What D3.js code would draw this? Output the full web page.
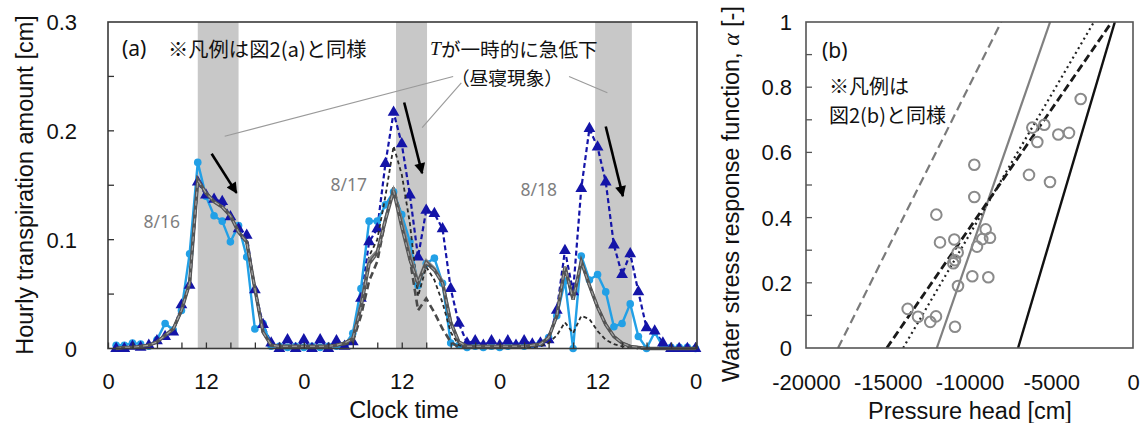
<!DOCTYPE html>
<html><head><meta charset="utf-8">
<script src="https://cdn.jsdelivr.net/npm/d3@7"></script>
<style>
body{margin:0;background:#fff;}
svg{display:block;}
</style></head><body>
<svg id="c" width="1142" height="423"></svg>
<script>
// ---------- Panel (a) data ----------
const hours = d3.range(1, 73);
const xTickHours = d3.range(0, 73, 3);
const xLabelHours = [0, 12, 24, 36, 48, 60, 72];
const yTicksA = [0, 0.1, 0.2, 0.3];
const yMinorA = [0.05, 0.1, 0.15, 0.2, 0.25];
const shadeBands = [[11, 16], [35.3, 39.1], [59.7, 64.2]];

// light blue, circles (observed)
const obsT = [
0.003,0.003,0.005,0.004,0.002,0.008,0.023,0.017,0.035,0.087,0.171,0.140,0.122,0.117,0.098,0.113,0.084,0.018,0.023,0.002,0.002,0.001,0.002,0.001,
0.002,0.001,0.002,0.002,0.003,0.014,0.055,0.117,0.117,0.132,0.144,0.123,0.098,0.058,0.078,0.083,0.060,0.005,0.003,0.001,0.002,0.001,0.002,0.001,
0.002,0.003,0.002,0.003,0.005,0.010,0.030,0.062,0.000,0.085,0.063,0.068,0.052,0.020,0.023,0.041,0.011,0.000,0.015,0.002,0.001,0.001,0.001,0.000];
// dark blue, triangles, dashed
const potT = [
0.000,0.000,0.002,0.001,0.003,0.007,0.011,0.015,0.040,0.058,0.153,0.141,0.137,0.135,0.121,0.110,0.104,0.054,0.022,0.005,0.000,0.008,0.000,0.008,
0.000,0.008,0.000,0.007,0.002,0.006,0.046,0.098,0.110,0.170,0.217,0.188,0.141,0.084,0.127,0.124,0.110,0.055,0.023,0.005,0.007,0.003,0.007,0.003,
0.007,0.003,0.007,0.004,0.005,0.008,0.035,0.090,0.052,0.147,0.202,0.185,0.153,0.095,0.068,0.087,0.052,0.019,0.016,0.005,0.000,0.000,0.000,0.000];
// thick dark gray
const modelA = [
0.000,0.001,0.001,0.002,0.003,0.006,0.012,0.018,0.035,0.060,0.155,0.143,0.135,0.130,0.122,0.107,0.098,0.055,0.015,0.003,0.002,0.002,0.002,0.002,
0.002,0.002,0.002,0.003,0.005,0.009,0.038,0.078,0.088,0.118,0.145,0.112,0.082,0.060,0.079,0.072,0.060,0.024,0.006,0.002,0.002,0.002,0.002,0.002,
0.002,0.002,0.002,0.003,0.004,0.010,0.030,0.075,0.045,0.080,0.058,0.038,0.022,0.011,0.005,0.002,0.001,0.000,0.000,0.000,0.000,0.000,0.000,0.000];
// medium gray solid
const modelB = [
0.000,0.001,0.001,0.002,0.003,0.006,0.012,0.018,0.035,0.060,0.155,0.143,0.135,0.130,0.122,0.107,0.098,0.055,0.015,0.003,0.002,0.002,0.002,0.002,
0.002,0.002,0.002,0.003,0.005,0.010,0.042,0.082,0.090,0.120,0.146,0.118,0.088,0.062,0.081,0.074,0.062,0.025,0.006,0.002,0.002,0.002,0.002,0.002,
0.002,0.002,0.002,0.003,0.004,0.010,0.030,0.075,0.045,0.080,0.058,0.038,0.022,0.011,0.005,0.002,0.001,0.000,0.000,0.000,0.000,0.000,0.000,0.000];
// gray long dashes
const modelC = [
0.000,0.001,0.001,0.002,0.003,0.006,0.012,0.018,0.035,0.060,0.155,0.143,0.135,0.130,0.122,0.107,0.098,0.055,0.015,0.003,0.002,0.002,0.002,0.002,
0.002,0.002,0.002,0.003,0.004,0.006,0.030,0.062,0.080,0.118,0.148,0.118,0.082,0.035,0.046,0.033,0.018,0.006,0.001,0.001,0.001,0.001,0.001,0.001,
0.002,0.002,0.002,0.003,0.004,0.010,0.030,0.075,0.045,0.080,0.058,0.038,0.022,0.011,0.005,0.002,0.001,0.000,0.000,0.000,0.000,0.000,0.000,0.000];
// black short dashes
const modelD = [
0.000,0.001,0.001,0.002,0.003,0.006,0.012,0.018,0.035,0.060,0.155,0.143,0.135,0.130,0.122,0.107,0.098,0.055,0.015,0.003,0.002,0.002,0.002,0.002,
0.002,0.002,0.002,0.003,0.004,0.006,0.040,0.085,0.100,0.140,0.186,0.160,0.115,0.048,0.075,0.063,0.042,0.015,0.003,0.001,0.001,0.001,0.001,0.001,
0.001,0.001,0.001,0.001,0.002,0.005,0.012,0.024,0.014,0.030,0.027,0.016,0.008,0.004,0.002,0.001,0.000,0.000,0.000,0.000,0.000,0.000,0.000,0.000];

const dateLabels = [
  {t: "8/16", h: 6.6, v: 0.117},
  {t: "8/17", h: 29.5, v: 0.151},
  {t: "8/18", h: 52.8, v: 0.147}];
const calloutLines = [
  [[14.3, 0.195], [42.3, 0.250]],
  [[43.3, 0.244], [38.5, 0.203]],
  [[56.5, 0.250], [61.2, 0.235]]];
const arrows = [
  [[12.7, 0.179], [15.75, 0.143]],
  [[36.3, 0.226], [38.5, 0.161]],
  [[61.0, 0.204], [63.1, 0.140]]];

// ---------- Panel (b) data ----------
const obsHead = [-3199,-6159,-5425,-5853,-4569,-3914,-6361,-5076,-9706,-9706,-12029,-11804,-10929,-9011,-9217,-8746,-9541,-10724,-10887,-10990,-9829,-8849,-10703,-13780,-13150,-12049,-12398,-10887];
const obsAlpha = [0.764,0.676,0.685,0.632,0.655,0.660,0.531,0.509,0.562,0.463,0.409,0.324,0.333,0.364,0.334,0.338,0.311,0.293,0.269,0.260,0.220,0.217,0.190,0.120,0.096,0.097,0.080,0.065];
const lineGrayDash = [[-18040, 0], [-8060, 1]];
const lineGraySolid = [[-12000, 0], [-5070, 1]];
const lineBlackDot = [[-14060, 0], [-2390, 1]];
const lineBlackDash = [[-15060, 0], [-1300, 1]];
const lineBlackSolid = [[-7030, 0], [-1110, 1]];
const xTicksB = [-20000, -15000, -10000, -5000, 0];
const yTicksB = [0, 0.2, 0.4, 0.6, 0.8, 1];
const yMinorB = d3.range(0.1, 1.0, 0.1);

// ---------- drawing ----------
const svg = d3.select("#c");
const FONT = "'Liberation Sans', Arial, sans-serif";
const JP = "'Noto Sans CJK JP', 'Noto Sans', sans-serif";
const TICKFS = 22, TITLEFS = 23.5;

svg.append("defs").append("marker")
  .attr("id", "ah").attr("viewBox", "0 0 10 10")
  .attr("refX", 9).attr("refY", 5)
  .attr("markerWidth", 12).attr("markerHeight", 11)
  .attr("markerUnits", "userSpaceOnUse")
  .attr("orient", "auto")
  .append("path").attr("d", "M0,0 L10,5 L0,10 z").attr("fill", "#000");

// Panel (a)
const ax = {l: 108, r: 697, t: 22, b: 348.5};
const x = d3.scaleLinear().domain([0, 72]).range([108, 695.5]);
const y = d3.scaleLinear().domain([0, 0.3]).range([ax.b, ax.t]);
const gA = svg.append("g");

gA.selectAll("rect.band").data(shadeBands).join("rect")
  .attr("x", d => x(d[0])).attr("width", d => x(d[1]) - x(d[0]))
  .attr("y", ax.t).attr("height", ax.b - ax.t)
  .attr("fill", "#c8c8c8");

gA.selectAll("line.call").data(calloutLines).join("line")
  .attr("x1", d => x(d[0][0])).attr("y1", d => y(d[0][1]))
  .attr("x2", d => x(d[1][0])).attr("y2", d => y(d[1][1]))
  .attr("stroke", "#9a9a9a").attr("stroke-width", 1.1);

const line = d3.line().x((d, i) => x(hours[i])).y(d => y(d));

gA.append("path").datum(potT).attr("d", line)
  .attr("fill", "none").attr("stroke", "#1414a8").attr("stroke-width", 2.2)
  .attr("stroke-dasharray", "5,3");
gA.append("path").datum(obsT).attr("d", line)
  .attr("fill", "none").attr("stroke", "#22a0e6").attr("stroke-width", 2.4);
gA.selectAll("circle.obs").data(obsT).join("circle")
  .attr("cx", (d, i) => x(hours[i])).attr("cy", d => y(d)).attr("r", 3.8)
  .attr("fill", "#22a0e6");
gA.selectAll("path.tri").data(potT).join("path")
  .attr("d", d3.symbol(d3.symbolTriangle, 60))
  .attr("transform", (d, i) => `translate(${x(hours[i])},${y(d)})`)
  .attr("fill", "#1414a8");

gA.append("path").datum(modelD).attr("d", line)
  .attr("fill", "none").attr("stroke", "#2b2b2b").attr("stroke-width", 1.8)
  .attr("stroke-dasharray", "4,3");
gA.append("path").datum(modelC).attr("d", line)
  .attr("fill", "none").attr("stroke", "#4a4a4a").attr("stroke-width", 2.6)
  .attr("stroke-dasharray", "7,4");
gA.append("path").datum(modelB).attr("d", line)
  .attr("fill", "none").attr("stroke", "#888").attr("stroke-width", 2.6);
gA.append("path").datum(modelA).attr("d", line)
  .attr("fill", "none").attr("stroke", "#555").attr("stroke-width", 3.4);
gA.append("path").datum(modelA).attr("d", line)
  .attr("fill", "none").attr("stroke", "#a8a8a8").attr("stroke-width", 1.1)
  .attr("stroke-dasharray", "5,4");

gA.selectAll("line.arr").data(arrows).join("line")
  .attr("x1", d => x(d[0][0])).attr("y1", d => y(d[0][1]))
  .attr("x2", d => x(d[1][0])).attr("y2", d => y(d[1][1]))
  .attr("stroke", "#000").attr("stroke-width", 2.6)
  .attr("marker-end", "url(#ah)");

gA.append("rect").attr("x", ax.l).attr("y", ax.t)
  .attr("width", ax.r - ax.l).attr("height", ax.b - ax.t)
  .attr("fill", "none").attr("stroke", "#3a3a3a").attr("stroke-width", 1.6);

const xAxA = d3.axisBottom(x).tickValues(xTickHours).tickSize(-6)
  .tickFormat(d => xLabelHours.includes(d) ? String(d % 24) : "").tickPadding(33);
const gxa = gA.append("g").attr("transform", `translate(0,${ax.b})`).call(xAxA);
gxa.select(".domain").remove();
gxa.selectAll("line").attr("stroke", "#333").attr("stroke-width", 1.3);
gxa.selectAll("text").attr("font-family", FONT).attr("font-size", TICKFS).attr("fill", "#111")
  .attr("dy", "0").attr("dominant-baseline", "central");

const yAxA = d3.axisLeft(y).tickValues(yTicksA).tickSize(0).tickPadding(31)
  .tickFormat(d => d === 0 ? "0" : d3.format(".1f")(d));
const gya = gA.append("g").attr("transform", `translate(${ax.l},0)`).call(yAxA);
gya.select(".domain").remove();
gya.selectAll("text").attr("font-family", FONT).attr("font-size", TICKFS).attr("fill", "#111")
  .attr("dy", "0").attr("dominant-baseline", "central");
gA.selectAll("line.ym").data(yMinorA).join("line")
  .attr("x1", ax.l).attr("x2", ax.l + 6).attr("y1", d => y(d)).attr("y2", d => y(d))
  .attr("stroke", "#333").attr("stroke-width", 1.3);

gA.append("text").attr("transform", `translate(25,185) rotate(-90)`)
  .attr("text-anchor", "middle").attr("dominant-baseline", "central")
  .attr("font-family", FONT).attr("font-size", TITLEFS).attr("fill", "#111")
  .text("Hourly transpiration amount [cm]");
gA.append("text").attr("x", 404).attr("y", 410)
  .attr("text-anchor", "middle").attr("dominant-baseline", "central")
  .attr("font-family", FONT).attr("font-size", TITLEFS).attr("fill", "#111")
  .text("Clock time");

gA.selectAll("text.date").data(dateLabels).join("text")
  .attr("x", d => x(d.h)).attr("y", d => y(d.v))
  .attr("text-anchor", "middle").attr("dominant-baseline", "central")
  .attr("font-family", "'Noto Sans', sans-serif").attr("font-size", 17.5).attr("fill", "#7f7f7f")
  .text(d => d.t);

gA.append("text").attr("x", 122).attr("y", 48).attr("dominant-baseline", "central")
  .attr("font-family", "'Noto Sans', sans-serif").attr("font-size", 21).attr("fill", "#111").text("(a)");
gA.append("text").attr("x", 168).attr("y", 48).attr("dominant-baseline", "central")
  .attr("font-family", JP).attr("font-size", 20.3).attr("fill", "#111").text("※凡例は図2(a)と同様");
const tt = gA.append("text").attr("x", 430).attr("y", 48).attr("dominant-baseline", "central")
  .attr("font-family", JP).attr("font-size", 19.6).attr("fill", "#111");
tt.append("tspan").attr("font-style", "italic").attr("font-family", "'Liberation Serif', serif").text("T");
tt.append("tspan").text("が一時的に急低下");
gA.append("text").attr("x", 507).attr("y", 76).attr("text-anchor", "middle").attr("dominant-baseline", "central")
  .attr("font-family", JP).attr("font-size", 18.7).attr("fill", "#111").text("（昼寝現象）");

// Panel (b)
const bx = {l: 806, r: 1133, t: 22, b: 348};
const xb = d3.scaleLinear().domain([-20000, 0]).range([bx.l, bx.r]);
const yb = d3.scaleLinear().domain([0, 1]).range([bx.b, bx.t]);
const gB = svg.append("g");
gB.append("defs").append("clipPath").attr("id", "clipb").append("rect")
  .attr("x", bx.l).attr("y", bx.t).attr("width", bx.r - bx.l).attr("height", bx.b - bx.t);
const gBL = gB.append("g").attr("clip-path", "url(#clipb)");
const lb = d3.line().x(d => xb(d[0])).y(d => yb(d[1]));
const bLines = [
  {d: lineGrayDash, c: "#7a7a7a", w: 2.2, da: "9,5"},
  {d: lineGraySolid, c: "#808080", w: 2.2, da: null},
  {d: lineBlackDot, c: "#222", w: 2.2, da: "2,3.5"},
  {d: lineBlackDash, c: "#1a1a1a", w: 2.8, da: "8,4"},
  {d: lineBlackSolid, c: "#111", w: 2.4, da: null}];
bLines.forEach(o => {
  gBL.append("path").datum(o.d).attr("d", lb).attr("fill", "none")
    .attr("stroke", o.c).attr("stroke-width", o.w)
    .attr("stroke-dasharray", o.da);
});
gBL.selectAll("circle").data(obsHead).join("circle")
  .attr("cx", d => xb(d)).attr("cy", (d, i) => yb(obsAlpha[i])).attr("r", 5.3)
  .attr("fill", "none").attr("stroke", "#8a8a8a").attr("stroke-width", 2);

gB.append("rect").attr("x", bx.l).attr("y", bx.t)
  .attr("width", bx.r - bx.l).attr("height", bx.b - bx.t)
  .attr("fill", "none").attr("stroke", "#555").attr("stroke-width", 1.6);
gB.selectAll("line.ymb").data(yMinorB).join("line")
  .attr("x1", bx.l).attr("x2", bx.l + 6).attr("y1", d => yb(d)).attr("y2", d => yb(d))
  .attr("stroke", "#555").attr("stroke-width", 1.3);

const xAxB = d3.axisBottom(xb).tickValues(xTicksB).tickSize(0).tickPadding(34)
  .tickFormat(d => String(d));
const gxb = gB.append("g").attr("transform", `translate(0,${bx.b})`).call(xAxB);
gxb.select(".domain").remove();
gxb.selectAll("text").attr("font-family", FONT).attr("font-size", TICKFS).attr("fill", "#111")
  .attr("dy", "0").attr("dominant-baseline", "central");
const yAxB = d3.axisLeft(yb).tickValues(yTicksB).tickSize(0).tickPadding(14)
  .tickFormat(d => d === 0 ? "0" : d === 1 ? "1" : d3.format(".1f")(d));
const gyb = gB.append("g").attr("transform", `translate(${bx.l},0)`).call(yAxB);
gyb.select(".domain").remove();
gyb.selectAll("text").attr("font-family", FONT).attr("font-size", TICKFS).attr("fill", "#111")
  .attr("dy", "0").attr("dominant-baseline", "central");

const yl = gB.append("text").attr("transform", `translate(731,194) rotate(-90)`)
  .attr("text-anchor", "middle").attr("dominant-baseline", "central")
  .attr("font-family", FONT).attr("font-size", TITLEFS).attr("fill", "#111");
yl.append("tspan").text("Water stress response function, ");
yl.append("tspan").attr("font-family", "'Liberation Serif', serif").attr("font-style", "italic").text("α");
yl.append("tspan").text(" [-]");
gB.append("text").attr("x", 970).attr("y", 411)
  .attr("text-anchor", "middle").attr("dominant-baseline", "central")
  .attr("font-family", FONT).attr("font-size", TITLEFS).attr("fill", "#111")
  .text("Pressure head [cm]");
gB.append("text").attr("x", 822).attr("y", 50).attr("dominant-baseline", "central")
  .attr("font-family", "'Noto Sans', sans-serif").attr("font-size", 21).attr("fill", "#111").text("(b)");
gB.append("text").attr("x", 829).attr("y", 85).attr("dominant-baseline", "central")
  .attr("font-family", JP).attr("font-size", 20).attr("fill", "#111").text("※凡例は");
gB.append("text").attr("x", 829).attr("y", 114).attr("dominant-baseline", "central")
  .attr("font-family", JP).attr("font-size", 20).attr("fill", "#111").text("図2(b)と同様");
</script>
</body></html>
